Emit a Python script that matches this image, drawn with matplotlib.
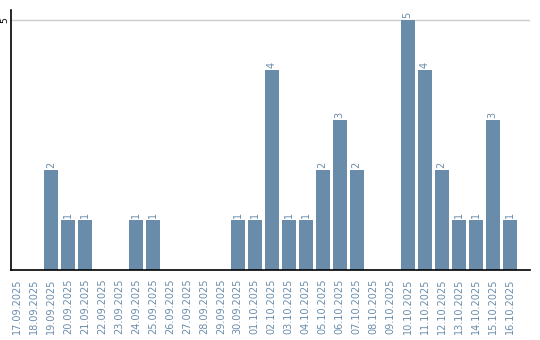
import matplotlib
matplotlib.use('Agg')
from matplotlib import pyplot as plt
import numpy as np

dates = ['17.09.2025', '18.09.2025', '19.09.2025', '20.09.2025', '21.09.2025',
         '22.09.2025', '23.09.2025', '24.09.2025', '25.09.2025', '26.09.2025',
         '27.09.2025', '28.09.2025', '29.09.2025', '30.09.2025', '01.10.2025',
         '02.10.2025', '03.10.2025', '04.10.2025', '05.10.2025', '06.10.2025',
         '07.10.2025', '08.10.2025', '09.10.2025', '10.10.2025', '11.10.2025',
         '12.10.2025', '13.10.2025', '14.10.2025', '15.10.2025', '16.10.2025']
counts = [0, 0, 2, 1, 1, 0, 0, 1, 1, 0, 0, 0, 0, 1, 1,
          4, 1, 1, 2, 3, 2, 0, 0, 5, 4, 2, 1, 1, 3, 1]

bar_color = '#6a8cab'
text_color = '#6a8cab'

fig = plt.figure(figsize=(5.4, 3.4), dpi=100)
ax = fig.add_axes([11 / 540, 70 / 340, 519 / 540, 260 / 340])

x = np.arange(len(dates))
ax.bar(x, counts, width=0.82, color=bar_color, zorder=2)

# value labels above the bars
for xi, c in zip(x, counts):
    if c > 0:
        ax.text(xi, c + 0.04, str(c), rotation=90, ha='center', va='bottom',
                fontsize=7, color=text_color)

ax.set_xlim(-0.35, 30.2)
ax.set_ylim(0, 5.2)
ax.set_yticks([5])
ax.set_yticklabels(['5'], rotation=90, va='center', fontsize=6.5)
ax.yaxis.grid(True, color='#cccccc', linewidth=1, zorder=0)
ax.tick_params(axis='y', length=0, pad=1)

ax.set_xticks(x)
ax.set_xticklabels(dates, rotation=90, fontsize=7, color=text_color)
ax.tick_params(axis='x', length=0, pad=6)

ax.spines['top'].set_visible(False)
ax.spines['right'].set_visible(False)
ax.spines['left'].set_linewidth(1.2)
ax.spines['bottom'].set_linewidth(1.2)

plt.savefig('out.png', dpi=100)
